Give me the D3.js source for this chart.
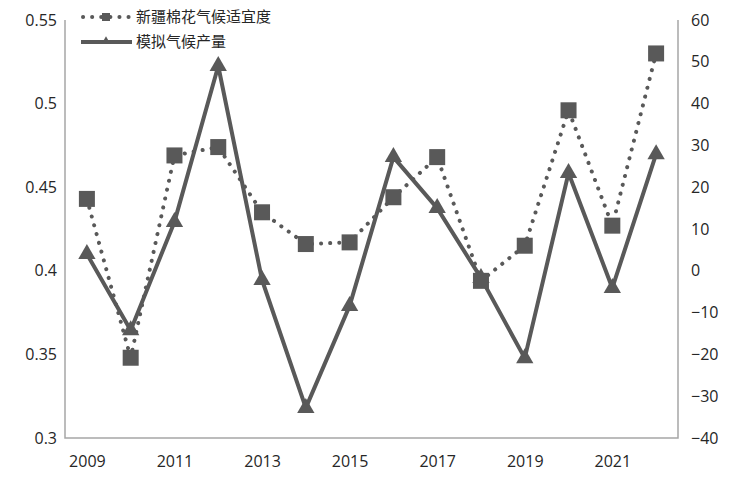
<!DOCTYPE html>
<html><head><meta charset="utf-8">
<script src="https://cdn.jsdelivr.net/npm/d3@7"></script>
<style>
html,body{margin:0;padding:0;background:#fff;}
svg{display:block;}
</style></head>
<body>
<svg id="chart" width="732" height="477"></svg>
<script>
const years = [2009,2010,2011,2012,2013,2014,2015,2016,2017,2018,2019,2020,2021,2022];
const yearLabels = ["2009","2011","2013","2015","2017","2019","2021"];
const suitability = [0.443,0.348,0.469,0.474,0.435,0.416,0.417,0.444,0.468,0.394,0.415,0.496,0.427,0.530];
const yieldSim = [4.0,-14.2,11.7,49.0,-2.2,-32.8,-8.4,27.2,15.0,-1.7,-20.9,23.4,-4.1,27.9];
const leftTicks = [0.3,0.35,0.4,0.45,0.5,0.55];
const rightTicks = [-40,-30,-20,-10,0,10,20,30,40,50,60];
const seriesNames = ["新疆棉花气候适宜度","模拟气候产量"];

const svg = d3.select("#chart");
const L = 65, R = 678, T = 20, B = 438;
const col = "#595959", axisCol = "#a6a6a6", txt = "#262626";
const numFont = "'Open Sans', 'Noto Sans', sans-serif";

const x = d3.scalePoint().domain(years).range([L, R]).padding(0.5);
const yL = d3.scaleLinear().domain([0.3, 0.55]).range([B, T]);
const yR = d3.scaleLinear().domain([-40, 60]).range([B, T]);

// frame
svg.append("path").attr("d", `M${L},${T}V${B}H${R}V${T}`)
  .attr("fill","none").attr("stroke",axisCol).attr("stroke-width",1.5);

// left axis
const gl = svg.append("g").attr("transform",`translate(${L},0)`)
  .call(d3.axisLeft(yL).tickValues(leftTicks).tickSize(0).tickPadding(8).tickFormat(d=>String(+d.toFixed(2))));
gl.select(".domain").remove();
gl.selectAll("text").attr("font-family",numFont).attr("font-size",16).attr("fill",txt);

// right axis
const gr = svg.append("g").attr("transform",`translate(${R},0)`)
  .call(d3.axisRight(yR).tickValues(rightTicks).tickSize(0).tickPadding(13));
gr.select(".domain").remove();
gr.selectAll("text").attr("font-family",numFont).attr("font-size",16).attr("fill",txt);

// bottom axis
const gb = svg.append("g").attr("transform",`translate(0,${B})`)
  .call(d3.axisBottom(x).tickValues(yearLabels.map(Number)).tickSize(0).tickPadding(18).tickFormat(d=>String(d)));
gb.select(".domain").remove();
gb.selectAll("text").attr("font-family",numFont).attr("font-size",16).attr("fill",txt);

// dotted series (left axis)
const lineL = d3.line().x((d,i)=>x(years[i])).y(d=>yL(d));
svg.append("path").datum(suitability).attr("d",lineL)
  .attr("fill","none").attr("stroke",col).attr("stroke-width",4)
  .attr("stroke-linecap","round").attr("stroke-dasharray","0.1 9");

// solid series (right axis)
const lineR = d3.line().x((d,i)=>x(years[i])).y(d=>yR(d));
svg.append("path").datum(yieldSim).attr("d",lineR)
  .attr("fill","none").attr("stroke",col).attr("stroke-width",4).attr("stroke-linejoin","round");

const tri = d3.symbol().type(d3.symbolTriangle).size(130);
svg.append("g").selectAll("path").data(yieldSim).join("path")
  .attr("d",tri).attr("transform",(d,i)=>`translate(${x(years[i])},${yR(d)})`)
  .attr("fill",col);

const sq = 16;
svg.append("g").selectAll("rect").data(suitability).join("rect")
  .attr("x",(d,i)=>x(years[i])-sq/2).attr("y",d=>yL(d)-sq/2)
  .attr("width",sq).attr("height",sq).attr("fill",col);

// legend
const lg = svg.append("g");
const ly = [17, 42];
lg.append("line").attr("x1",83).attr("x2",130).attr("y1",ly[0]).attr("y2",ly[0])
  .attr("stroke",col).attr("stroke-width",4).attr("stroke-linecap","round").attr("stroke-dasharray","0.1 9");
lg.append("rect").attr("x",102).attr("y",ly[0]-4).attr("width",8).attr("height",8).attr("fill",col);
lg.append("line").attr("x1",81).attr("x2",132).attr("y1",ly[1]).attr("y2",ly[1])
  .attr("stroke",col).attr("stroke-width",4);
lg.append("path").attr("d",d3.symbol().type(d3.symbolTriangle).size(30))
  .attr("transform",`translate(106,${ly[1]-1})`).attr("fill",col);
seriesNames.forEach((n,i)=>{
  lg.append("text").attr("x",136).attr("y",ly[i]).attr("dy","0.35em")
    .attr("font-family","'Noto Sans CJK SC', sans-serif").attr("font-size",15).attr("fill",txt).text(n);
});
</script>
</body></html>
